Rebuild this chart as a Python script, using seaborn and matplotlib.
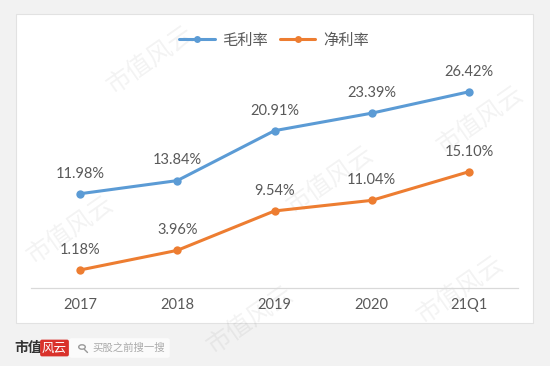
import matplotlib
matplotlib.use("Agg")
import matplotlib.pyplot as plt
import seaborn as sns
import pandas as pd
from matplotlib.patches import Rectangle, FancyBboxPatch, Circle

# ---------------------------------------------------------------------------
# Data
# ---------------------------------------------------------------------------
periods = ["2017", "2018", "2019", "2020", "21Q1"]
gross_margin = [11.98, 13.84, 20.91, 23.39, 26.42]
net_margin = [1.18, 3.96, 9.54, 11.04, 15.10]
series_names = ["毛利率", "净利率"]
colors = ["#5B9BD5", "#ED7D31"]

df = pd.DataFrame({
    "period": periods * 2,
    "value": gross_margin + net_margin,
    "series": [series_names[0]] * len(periods) + [series_names[1]] * len(periods),
})

sns.set_theme(style="white")
plt.rcParams["font.family"] = ["Lato", "Noto Sans CJK SC", "DejaVu Sans"]
cjk = ["Noto Sans CJK SC", "DejaVu Sans"]

fig = plt.figure(figsize=(5.5, 3.66), dpi=100)
fig.patch.set_facecolor("#f2f2f2")

W, H = 550, 366
# white chart panel (behind the axes)
fig.patches.append(Rectangle((16 / W, 1 - 323 / H), (533 - 16) / W, (323 - 14) / H,
                             transform=fig.transFigure, facecolor="white",
                             edgecolor="#e2e2e2", linewidth=0.8, zorder=-5))

ax = fig.add_axes([31.4 / W, 1 - 288 / H, (517.6 - 31.4) / W, (288 - 60) / H])
ax.patch.set_alpha(0)
ax.set_zorder(2)

sns.lineplot(data=df, x="period", y="value", hue="series", palette=colors,
             marker="o", markersize=6, markeredgewidth=0, linewidth=2.2,
             sort=False, ax=ax, legend=False)

ax.set_xlim(-0.5, len(periods) - 0.5)
ax.set_ylim(-1.37, 30.92)
ax.set_xlabel("")
ax.set_ylabel("")
ax.set_yticks([])
for s in ["top", "left", "right"]:
    ax.spines[s].set_visible(False)
ax.spines["bottom"].set_color("#d9d9d9")
ax.spines["bottom"].set_linewidth(0.9)
ax.tick_params(axis="x", length=0, pad=7, labelsize=10.5, labelcolor="#595959")

# data labels
for vals in [gross_margin, net_margin]:
    for i, v in enumerate(vals):
        ax.annotate(f"{v:.2f}%", (i, v), xytext=(0, 14.5), textcoords="offset points",
                    ha="center", va="center", fontsize=10.5, color="#595959")

# legend
handles = [plt.Line2D([], [], color=c, marker="o", markersize=5, markeredgewidth=0,
                      linewidth=2.2) for c in colors]
fig.legend(handles, series_names, loc="center", bbox_to_anchor=(274 / W, 1 - 40 / H),
           ncol=2, frameon=False, handlelength=2.3, columnspacing=0.8,
           handletextpad=0.5, labelcolor="#595959",
           prop={"family": cjk, "size": 11})

# watermarks
for (x, y) in [(150, 60), (330, 180), (480, 120), (70, 230), (250, 320), (460, 290)]:
    fig.text(x / W, 1 - y / H, "市值风云", rotation=35, fontsize=18, color="#000000",
             alpha=0.05, ha="center", va="center", family=cjk, zorder=-1)

# bottom brand strip
fig.text(14 / W, 1 - 348 / H, "市值", fontsize=10, color="#333333", fontweight="bold",
         ha="left", va="center", family=cjk)
fig.text(42 / W, 1 - 348 / H, "风云", fontsize=9, color="white", style="italic",
         ha="left", va="center", family=cjk,
         bbox=dict(boxstyle="round,pad=0.15", facecolor="#d9322b", edgecolor="none"))
fig.patches.append(FancyBboxPatch((72 / W, 1 - 356 / H), 95 / W, 16 / H,
                                  boxstyle="round,pad=0.005", transform=fig.transFigure,
                                  facecolor="#ffffff", edgecolor="none", alpha=0.7,
                                  zorder=-4))
# magnifier icon drawn as a shape
fig.patches.append(Circle((82 / W, 1 - 347 / H), 3.3 / W, transform=fig.transFigure,
                          facecolor="none", edgecolor="#999999", linewidth=1.0))
fig.add_artist(plt.Line2D([84.5 / W, 87.5 / W], [1 - 349.5 / H, 1 - 352.5 / H],
                          transform=fig.transFigure, color="#999999", linewidth=1.0))
fig.text(92 / W, 1 - 348 / H, "买股之前搜一搜", fontsize=7.5, color="#aaaaaa",
         ha="left", va="center", family=cjk)

fig.savefig("out.png", dpi=100, facecolor=fig.get_facecolor())
